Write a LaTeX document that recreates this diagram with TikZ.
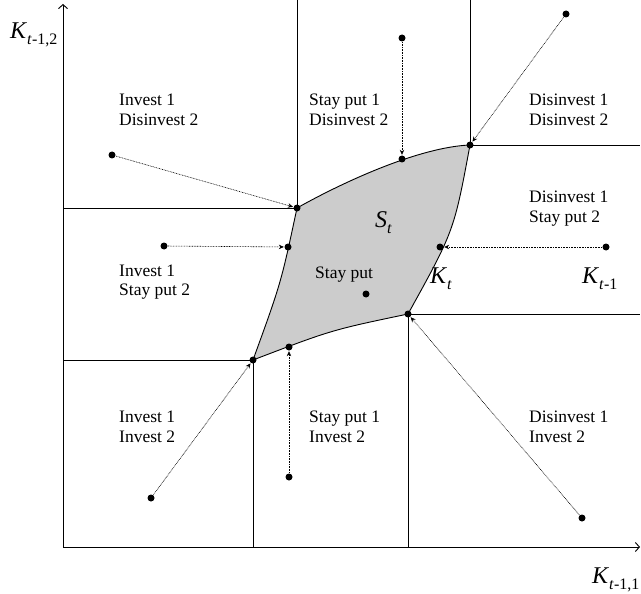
\documentclass[tikz,border=0pt]{standalone}
\usepackage{fontspec}
\setmainfont{Liberation Serif}
\usetikzlibrary{arrows.meta}
\newcommand{\twolines}[2]{\begin{tabular}[t]{@{}l@{}}#1\\#2\end{tabular}}
\newcommand{\bigK}{{\fontsize{24}{24}\selectfont\textit{K}}}
\newcommand{\mysubs}[1]{\raisebox{-6pt}{\fontsize{16}{16}\selectfont #1}}
\begin{document}
\begin{tikzpicture}[x=1pt,y=-1pt,
  lbl/.style={anchor=base west, inner sep=0pt, font=\fontsize{17.5}{20}\selectfont},
  sym/.style={anchor=base west, inner sep=0pt},
  dot/.style={circle, fill=black, inner sep=0pt, minimum size=7pt},
  mv/.style={-{Stealth[length=5pt,width=4.5pt]}, dash pattern=on 0.8pt off 0.8pt, line width=0.6pt, shorten >=0.5pt, shorten <=0.5pt},
  axis/.style={line width=0.9pt, -{Straight Barb[length=4pt,width=9pt]}},
  bnd/.style={line width=0.8pt}]
\useasboundingbox (0,0) rectangle (641,594);
% corners
\coordinate (A) at (297,208);
\coordinate (B) at (470,145);
\coordinate (C) at (408,314);
\coordinate (D) at (253,360);
\coordinate (Top) at (0,0);
\coordinate (Right) at (640,0);
% axes
\coordinate (O) at (63,547);
\coordinate (Ytop) at (63,4);
\coordinate (Xend) at (640,547);
\draw[axis] (O) -- (Ytop);
\draw[axis] (O) -- (Xend);
% region boundaries
\draw[bnd] (O |- A) -- (A) -- (A |- Top);
\draw[bnd] (B) -- (B |- Top);
\draw[bnd] (B) -- (Right |- B);
\draw[bnd] (C) -- (Right |- C);
\draw[bnd] (C) -- (C |- O);
\draw[bnd] (O |- D) -- (D) -- (D |- O);
% shaded set
\fill[black!20, draw=black, line width=0.9pt, line join=round]
  (A) .. controls (345,181) and (420,147) .. (B)
      .. controls (454,231) .. (C)
      .. controls (331.5,330) .. (D)
      .. controls (281,283) .. (A) -- cycle;
% dots on boundary
\node[dot] (dA) at (A) {};
\node[dot] (dB) at (B) {};
\node[dot] (dC) at (C) {};
\node[dot] (dD) at (D) {};
\node[dot] (dT) at (402,159) {};
\node[dot] (dL) at (288,247) {};
\node[dot] (dR) at (440,247) {};
\node[dot] (dBo) at (289,347) {};
\node[dot] (dI) at (366,294) {};
% outside dots
\node[dot] (o1) at (112,155) {};
\node[dot] (o2) at (164,246) {};
\node[dot] (o3) at (402,38) {};
\node[dot] (o4) at (566,14) {};
\node[dot] (o5) at (606,247) {};
\node[dot] (o6) at (582,518) {};
\node[dot] (o7) at (289,477) {};
\node[dot] (o8) at (151,498) {};
% arrows
\draw[mv] (o1) -- (dA);
\draw[mv] (o2) -- (dL);
\draw[mv] (o3) -- (dT);
\draw[mv] (o4) -- (dB);
\draw[mv] (o5) -- (dR);
\draw[mv] (o6) -- (dC);
\draw[mv] (o7) -- (dBo);
\draw[mv] (o8) -- (dD);
% labels
\node[lbl] (l1) at (119,106) {\twolines{Invest 1}{Disinvest 2}};
\node[lbl] (l2) at (309,106) {\twolines{Stay put 1}{Disinvest 2}};
\node[lbl] (l3) at (529,106) {\twolines{Disinvest 1}{Disinvest 2}};
\node[lbl] (l4) at (529,203) {\twolines{Disinvest 1}{Stay put 2}};
\node[lbl] (l5) at (119,276) {\twolines{Invest 1}{Stay put 2}};
\node[lbl] (l6) at (119,422) {\twolines{Invest 1}{Invest 2}};
\node[lbl] (l7) at (309,422) {\twolines{Stay put 1}{Invest 2}};
\node[lbl] (l8) at (529,422) {\twolines{Disinvest 1}{Invest 2}};
\node[lbl] (sp) at (315,278) {Stay put};
\node[sym] (St) at (375,227) {{\fontsize{24}{24}\selectfont\textit{S}}\mysubs{\textit{t}}};
\node[sym] (Kt) at (430,283) {\bigK\mysubs{\textit{t}}};
\node[sym] (Ktm) at (582,283) {\bigK\mysubs{\textit{t}-1}};
\node[sym] (Ky) at (10,39) {\bigK\mysubs{\textit{t}-1,2}};
\node[sym] (Kx) at (592,583) {\bigK\mysubs{\textit{t}-1,1}};
\end{tikzpicture}
\end{document}
